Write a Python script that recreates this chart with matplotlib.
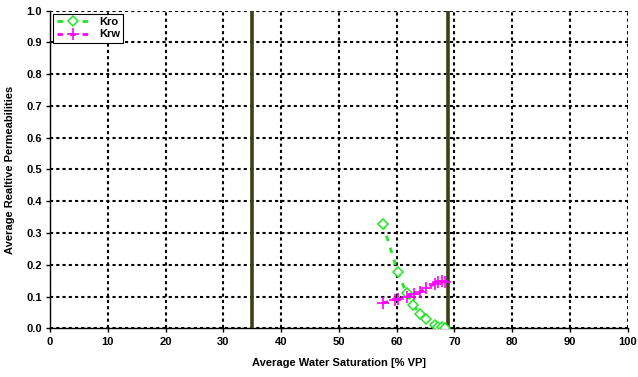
import matplotlib
matplotlib.use("Agg")
import matplotlib.pyplot as plt

plt.rcParams['font.family'] = ['Liberation Sans', 'DejaVu Sans']
plt.rcParams['font.weight'] = 'bold'

# relative permeability data
sw_kro = [57.6, 60.2, 61.7, 62.9, 64.05, 65.1, 66.6, 67.2, 67.8, 68.4]
kro = [0.329, 0.176, 0.110, 0.073, 0.045, 0.029, 0.010, 0.005, 0.003, 0.002]

sw_krw = [57.6, 59.7, 60.3, 61.7, 63.0, 64.05, 65.1, 66.6, 67.2, 67.8, 68.4]
krw = [0.080, 0.089, 0.093, 0.0995, 0.107, 0.115, 0.126, 0.141, 0.146, 0.148, 0.146]

# saturation limits
sw_limits = [35.0, 68.8]

fig = plt.figure(figsize=(6.38, 3.77), dpi=100)
ax = fig.add_axes([0.0784, 0.129, 0.9056, 0.843])

ax.set_xlim(0, 100)
ax.set_ylim(0, 1.0)
ax.set_xticks(range(0, 101, 10))
ax.set_yticks([i / 10 for i in range(11)])
ax.set_yticklabels([f"{i / 10:.1f}" for i in range(11)])

ax.grid(True, color='black', linestyle=(0, (1.5, 1.5)), linewidth=1.5)
ax.set_axisbelow(True)
for side in ['top', 'right']:
    ax.spines[side].set_visible(False)
for side in ['left', 'bottom']:
    ax.spines[side].set_linewidth(1.0)
ax.tick_params(axis='both', direction='out', length=3, width=1, labelsize=8, pad=3)
for lbl in ax.get_xticklabels() + ax.get_yticklabels():
    lbl.set_fontweight('bold')

for x in sw_limits:
    ax.axvline(x, color='#3f3f16', linewidth=2.6, zorder=3)

ax.plot(sw_kro, kro, color='#22e622', linestyle=(0, (2, 2.5)), linewidth=2,
        marker='D', markersize=5.5, markerfacecolor='white', markeredgecolor='#22e622',
        markeredgewidth=1.1, label='Kro', zorder=4)
ax.plot(sw_krw, krw, color='#ff00ff', linestyle=(0, (2, 2.5)), linewidth=2,
        marker='+', markersize=8, markeredgewidth=1.2, label='Krw', zorder=4)

ax.set_xlabel('Average Water Saturation [% VP]', fontsize=8, fontweight='bold', labelpad=8)
ax.set_ylabel('Average Realtive Permeabilities', fontsize=8, fontweight='bold', labelpad=8)

leg = ax.legend(loc='upper left', fontsize=8, frameon=True, fancybox=False,
                edgecolor='black', framealpha=1, borderpad=0.3, handlelength=3,
                labelspacing=0.2, borderaxespad=0.3)
leg.get_frame().set_linewidth(0.8)
for t in leg.get_texts():
    t.set_fontweight('bold')

fig.savefig('out.png', dpi=100)
